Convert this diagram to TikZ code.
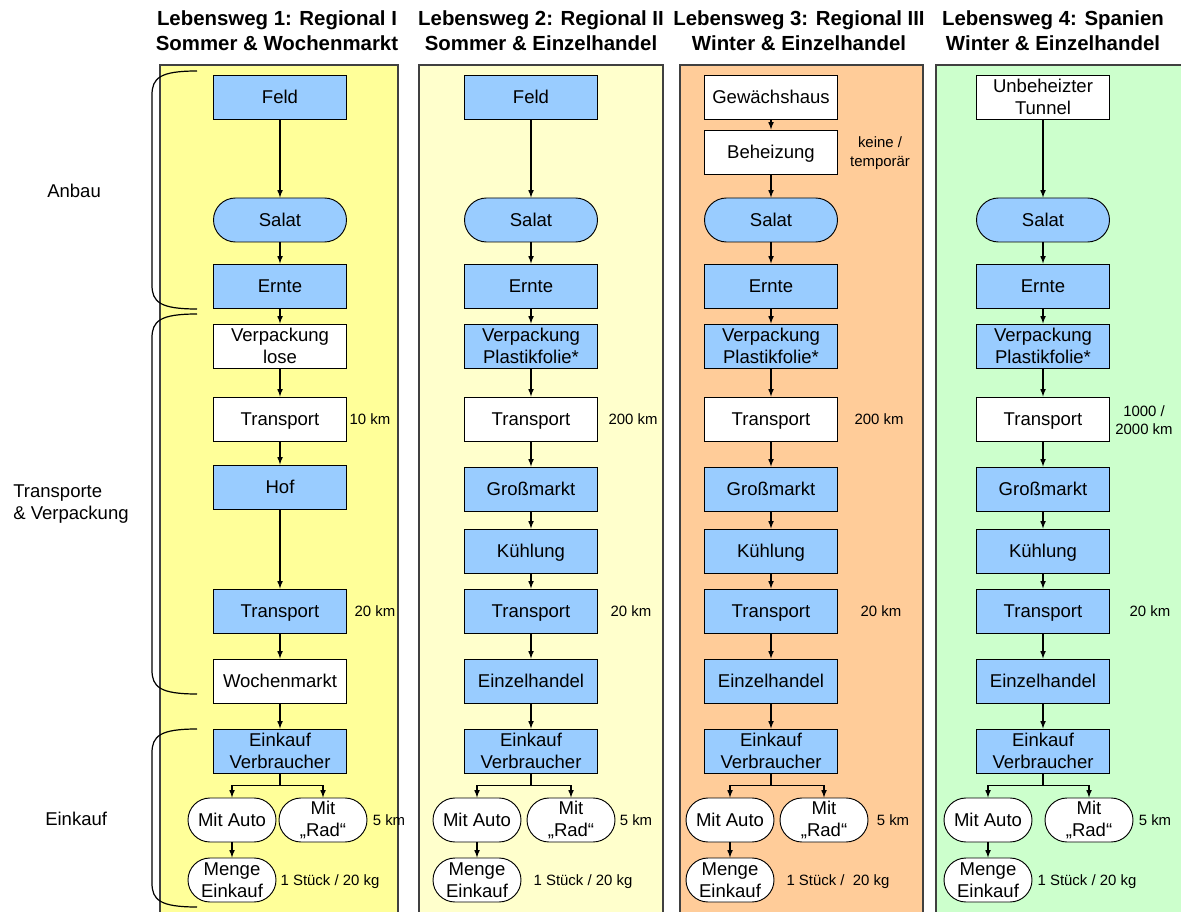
\documentclass[tikz,border=0pt]{standalone}
\usepackage{fontspec}
\setmainfont{Liberation Sans}
\definecolor{laneA}{HTML}{FFFF99}
\definecolor{laneB}{HTML}{FFFFCC}
\definecolor{laneC}{HTML}{FFCC99}
\definecolor{laneD}{HTML}{CCFFCC}
\definecolor{boxblue}{HTML}{99CCFF}
\newcommand{\boxfont}{\fontsize{13.9}{16.5}\selectfont}
\newcommand{\notefont}{\fontsize{11.2}{14}\selectfont}
\newcommand{\titlefont}{\fontsize{15.3}{18.75}\selectfont\bfseries}
\tikzset{>=latex,
  lane/.style={draw=black!75, line width=0.9pt},
  bluebox/.style={draw=black, fill=boxblue, line width=0.7pt, minimum width=99.75pt, minimum height=33pt, inner sep=0pt, align=center, font=\boxfont, text height=9.95pt, text depth=0pt},
  whitebox/.style={bluebox, fill=white},
  pill/.style={bluebox, rounded corners=16.5pt},
  smallpill/.style={whitebox, rounded corners=16.5pt, minimum width=66pt},
  twoline/.style={text height=, text depth=},
  note/.style={font=\notefont, align=center, inner sep=0pt, text height=8pt, text depth=0pt},
  title/.style={font=\titlefont, align=center, inner sep=0pt},
  side/.style={font=\boxfont, align=left, anchor=west, inner sep=0pt},
  flow/.style={->, line width=0.9pt},
  brace/.style={line width=0.9pt}}

\begin{document}
\begin{tikzpicture}[x=0.75pt, y=-0.75pt]
\useasboundingbox (0,0) rectangle (1181,912);

% Hintergrund der vier Lebenswege
\draw[lane, fill=laneA] (160,65) rectangle (398,930);
\draw[lane, fill=laneB] (419,65) rectangle (663,930);
\draw[lane, fill=laneC] (680,65) rectangle (923,930);
\draw[lane, fill=laneD] (936,65) rectangle (1200,930);

\node[title] (titel1) at (277,30.5) {Lebensweg 1: Regional I\\Sommer \& Wochenmarkt};
\node[title] (titel2) at (541,30.5) {Lebensweg 2: Regional II\\Sommer \& Einzelhandel};
\node[title] (titel3) at (799,30.5) {Lebensweg 3: Regional III\\Winter \& Einzelhandel};
\node[title] (titel4) at (1053,30.5) {Lebensweg 4: Spanien\\Winter \& Einzelhandel};

% Phasen links
\node[side] (anbau) at (47,191) {Anbau};
\node[side] (transporte) at (13,504.5) {Transporte\\\& Verpackung};
\node[side] (kauf) at (45,819) {Einkauf};

\draw[brace] (197,71) .. controls (160,71) and (152,78) .. (152,95) -- (152,285) .. controls (152,302) and (160,309) .. (197,309);
\draw[brace] (197,314) .. controls (160,314) and (152,321) .. (152,338) -- (152,670) .. controls (152,687) and (160,694) .. (197,694);
\draw[brace] (197,729) .. controls (160,729) and (152,736) .. (152,753) -- (152,883) .. controls (152,900) and (160,907) .. (197,907);

% Lebensweg 1
\node[bluebox] (feld1) at (280,97) {Feld};
\node[pill] (salat1) at (280,220) {Salat};
\node[bluebox] (ernte1) at (280,286) {Ernte};
\node[whitebox, twoline] (verp1) at (280,346) {Verpackung\\lose};
\node[whitebox] (trans1) at (280,419) {Transport};
\node[bluebox] (hof1) at (280,487) {Hof};
\node[bluebox] (fahrt1) at (280,611) {Transport};
\node[whitebox] (markt1) at (280,681) {Wochenmarkt};
\node[bluebox, twoline] (einkauf1) at (280,751) {Einkauf\\Verbraucher};
\node[smallpill] (auto1) at (232,820) {Mit Auto};
\node[smallpill, twoline] (rad1) at (323,820) {Mit\\„Rad“};
\node[smallpill, twoline] (menge1) at (232,880) {Menge\\Einkauf};

\draw[flow] (feld1) -- (salat1);
\draw[flow] (salat1) -- (ernte1);
\draw[flow] (ernte1) -- (verp1);
\draw[flow] (verp1) -- (trans1);
\draw[flow] (trans1) -- (hof1);
\draw[flow] (hof1) -- (fahrt1);
\draw[flow] (fahrt1) -- (markt1);
\draw[flow] (markt1) -- (einkauf1);
\draw[flow] (einkauf1.south) -- ++(0,12) -| (auto1.north);
\draw[flow] (einkauf1.south) -- ++(0,12) -| (rad1.north);
\draw[flow] (auto1) -- (menge1);

\node[note] (km1) at (370,419) {10 km};
\node[note] (kmb1) at (375,611) {20 km};
\node[note] (kmr1) at (389,820) {5 km};
\node[note] (kg1) at (330,880) {1 Stück / 20 kg};

% Lebenswege 2 bis 4, gleiche Kette ab Salat
\foreach \c/\x/\xa/\xr in {2/531/477/571, 3/771/730/824, 4/1043/988/1089} {
  \node[pill] (salat\c) at (\x,220) {Salat};
  \node[bluebox] (ernte\c) at (\x,286) {Ernte};
  \node[bluebox, twoline] (verp\c) at (\x,346) {Verpackung\\Plastikfolie*};
  \node[whitebox] (trans\c) at (\x,419) {Transport};
  \node[bluebox] (gross\c) at (\x,489) {Großmarkt};
  \node[bluebox] (kuehl\c) at (\x,551) {Kühlung};
  \node[bluebox] (fahrt\c) at (\x,611) {Transport};
  \node[bluebox] (handel\c) at (\x,681) {Einzelhandel};
  \node[bluebox, twoline] (einkauf\c) at (\x,751) {Einkauf\\Verbraucher};
  \node[smallpill] (auto\c) at (\xa,820) {Mit Auto};
  \node[smallpill, twoline] (rad\c) at (\xr,820) {Mit\\„Rad“};
  \node[smallpill, twoline] (menge\c) at (\xa,880) {Menge\\Einkauf};
  \draw[flow] (salat\c) -- (ernte\c);
  \draw[flow] (ernte\c) -- (verp\c);
  \draw[flow] (verp\c) -- (trans\c);
  \draw[flow] (trans\c) -- (gross\c);
  \draw[flow] (gross\c) -- (kuehl\c);
  \draw[flow] (kuehl\c) -- (fahrt\c);
  \draw[flow] (fahrt\c) -- (handel\c);
  \draw[flow] (handel\c) -- (einkauf\c);
  \draw[flow] (einkauf\c.south) -- ++(0,12) -| (auto\c.north);
  \draw[flow] (einkauf\c.south) -- ++(0,12) -| (rad\c.north);
  \draw[flow] (auto\c) -- (menge\c);
}

\node[bluebox] (feld2) at (531,97) {Feld};
\draw[flow] (feld2) -- (salat2);
\node[whitebox] (haus3) at (771,97) {Gewächshaus};
\node[whitebox] (heiz3) at (771,152) {Beheizung};
\draw[flow] (haus3) -- (heiz3);
\draw[flow] (heiz3) -- (salat3);
\node[whitebox, twoline] (tunnel4) at (1043,97) {Unbeheizter\\Tunnel};
\draw[flow] (tunnel4) -- (salat4);

\node[note] (km2) at (633,419) {200 km};
\node[note] (kmb2) at (631,611) {20 km};
\node[note] (kmr2) at (636,820) {5 km};
\node[note] (kg2) at (583,880) {1 Stück / 20 kg};

\node[note, twoline] (heizung3) at (880,153) {keine /\\temporär};
\node[note] (km3) at (879,419) {200 km};
\node[note] (kmb3) at (881,611) {20 km};
\node[note] (kmr3) at (893,820) {5 km};
\node[note] (kg3) at (838,880) {1 Stück /\ \ 20 kg};

\node[note, twoline] (km4) at (1144,420) {1000 /\\2000 km};
\node[note] (kmb4) at (1150,611) {20 km};
\node[note] (kmr4) at (1155,820) {5 km};
\node[note] (kg4) at (1087,880) {1 Stück / 20 kg};
\end{tikzpicture}
\end{document}
